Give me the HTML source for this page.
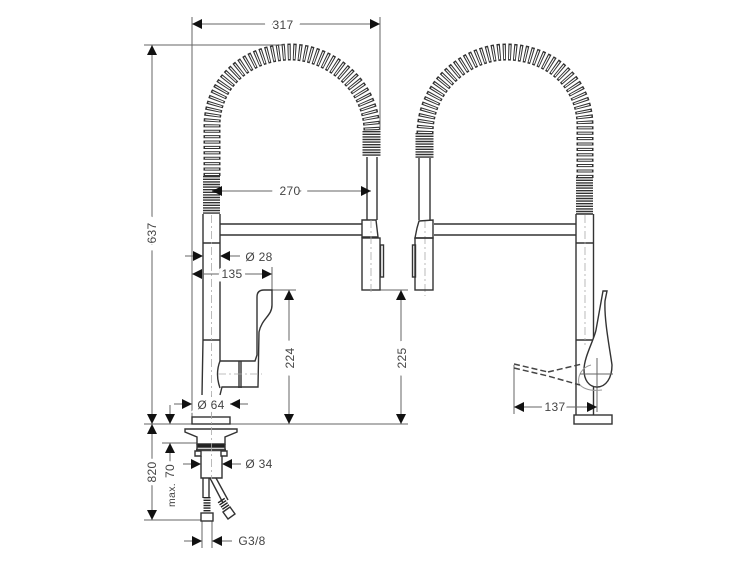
<!DOCTYPE html>
<html><head><meta charset="utf-8"><style>
html,body{margin:0;padding:0;background:#fff}
svg{display:block;filter:blur(.35px)}
text{font-family:"Liberation Sans",sans-serif;font-size:12px;fill:#444;text-anchor:middle;stroke:#fff;stroke-width:7px;paint-order:stroke;letter-spacing:.3px}
.g{stroke-width:15px}
.d{fill:none;stroke:#666;stroke-width:1}
.o{fill:none;stroke:#333;stroke-width:1.4}
.w{fill:#fff;stroke:#333;stroke-width:1.4}
.c{fill:none;stroke:#aaa;stroke-width:.8;stroke-dasharray:8 3 2 3}
.a{fill:none;stroke:#666;stroke-width:1;marker-end:url(#m)}
.h{fill:none;stroke:#444;stroke-width:1.5;stroke-dasharray:6 3}
</style></head><body>
<svg width="750" height="563" viewBox="0 0 750 563" xmlns="http://www.w3.org/2000/svg">
<defs>
<marker id="m" markerUnits="userSpaceOnUse" markerWidth="12" markerHeight="11" refX="10" refY="5" orient="auto"><path d="M0 0L10 5L0 10z" fill="#111"/></marker>
</defs>

<!-- coils -->
<g fill="none">
<path d="M212 176L212 126C212 82 248 52 291 52C328 52 372 84 372 132" stroke="#333" stroke-width="17" stroke-dasharray="3.1 2.3"/>
<path d="M212 176L212 126C212 82 248 52 291 52C328 52 372 84 372 132" stroke="#fff" stroke-width="14" stroke-dasharray="1.1 4.3" stroke-dashoffset="-1"/>
<path d="M425 134C425 84 469 52 506 52C549 52 585 82 585 126L585 178" stroke="#333" stroke-width="17" stroke-dasharray="3.1 2.3"/>
<path d="M425 134C425 84 469 52 506 52C549 52 585 82 585 126L585 178" stroke="#fff" stroke-width="14" stroke-dasharray="1.1 4.3" stroke-dashoffset="-1"/>
<!-- threaded collars -->
<path d="M211.500 176V214" stroke="#333" stroke-width="17" stroke-dasharray="1.4 1.2"/>
<path d="M371.500 131V157" stroke="#333" stroke-width="18" stroke-dasharray="1.4 1.2"/>
<path d="M424.500 133V158" stroke="#333" stroke-width="18" stroke-dasharray="1.4 1.2"/>
<path d="M584.500 177V214" stroke="#333" stroke-width="17" stroke-dasharray="1.4 1.2"/>
</g>

<!-- dimension extension lines -->
<path class="d" d="M192 17V417M380 17V130M144 45H285M144 424H408M144 520H204M162 443H197M272 267V290M272 290H296M362 290H408M202 521V548M212 521V548M514 365V414M597 358V412"/>

<!-- LEFT body -->
<path class="o" d="M203 214V243M220 214V243M203 243H220M203 243V340M220 243V361M203 340H220M203 340L202 395M220 361H255L257 355V297Q257 290 264 290H272V305C272 316 262 318 259 332L258 387H222L220 395"/>
<path class="o" d="M220 224H362M220 235H362M367 157V220M377 157V220"/>
<path class="o" d="M239 361V388M241 361V388M220 361Q215 374 220 388"/>
<path class="c" d="M211.500 215V420M218 374H262"/>
<path class="o" d="M362 220H376L378 237H362z"/>
<rect class="o" x="362" y="238" width="18" height="52"/>
<rect class="o" x="380.500" y="245" width="3" height="32"/>
<path class="c" d="M371 220V295"/>

<!-- Base section -->
<rect class="w" x="192" y="417" width="38" height="7"/>
<path class="w" d="M185 429H237V432L225 437V444H197V437L185 432z"/>
<path d="M197 446H225" stroke="#222" stroke-width="3.500"/>
<path d="M196 450H226" stroke="#444" stroke-width="2.500"/>
<path class="o" d="M197 444V455M225 444V455"/>
<path class="w" d="M195 451H201V456H195zM221 451H227V456H221z"/>
<path class="o" d="M201 456V478H222V456"/>
<path class="o" d="M203 478V498M209 478V498M210 478L223 503M216 478L228 500"/>
<path d="M207 497V514" stroke="#222" stroke-width="7" stroke-dasharray="1.4 1.2"/>
<path d="M221 500L229 512" stroke="#222" stroke-width="8" stroke-dasharray="1.4 1.2"/>
<rect class="w" x="201" y="513" width="12" height="8"/>
<path class="w" d="M223 512L230 507L235 514L228 519z"/>
<path class="c" d="M211.500 395V480"/>

<!-- RIGHT faucet -->
<path class="o" d="M576 214V420M593.500 214V420M576 214H593M576 243H594M576 340H594M434 224H576M434 235H576M419 158V220M430 158V220"/>
<path class="c" d="M585 215V345M425 220V296"/>
<path class="o" d="M419 221L433 220V238H415L417 228z"/>
<rect class="o" x="415" y="238" width="18" height="52"/>
<rect class="o" x="412.500" y="245" width="3" height="32"/>
<rect class="w" x="574" y="415" width="38" height="9"/>
<path class="w" d="M603 291L607 291L605 301C604 320 610 350 612 365C612 378 606 387 597 387C589 387 584 380 584 370C584 357 594 340 596 330z"/>
<path d="M591 365A16 16 0 0 0 579 384Q586 392 602 390" fill="none" stroke="#999" stroke-width="1"/>
<path class="d" d="M597 358V387M580 374H613"/>
<path class="h" d="M514 364L548 372M548 372L582 364M514 368L548 376L580 385"/>

<!-- dims -->
<path class="a" d="M283 24H192"/><path class="a" d="M283 24H380"/>
<path class="a" d="M152 232V45"/><path class="a" d="M152 232V424"/>
<path class="a" d="M152 470V424"/><path class="a" d="M152 470V520"/>
<path class="a" d="M289 191H212"/><path class="a" d="M289 191H371"/>
<path class="a" d="M185 256H203"/><path class="a" d="M240 256H220"/>
<path class="a" d="M232 274H192"/><path class="a" d="M232 274H272"/>
<path class="a" d="M289 360V290"/><path class="a" d="M289 360V424"/>
<path class="a" d="M401 360V290"/><path class="a" d="M401 360V424"/>
<path class="a" d="M174 404H192"/><path class="a" d="M248 404H230"/>
<path class="a" d="M170 405V424"/><path class="a" d="M170 470V443"/>
<path class="a" d="M183 464H201"/><path class="a" d="M241 464H222"/>
<path class="a" d="M184 541H202"/><path class="a" d="M232 541H212"/>
<path class="a" d="M555 407H514"/><path class="a" d="M555 407H597"/>

<text class="g" x="283" y="29">317</text>
<text class="g" x="290" y="195">270</text>
<text x="259" y="261">Ø 28</text>
<text x="232" y="278">135</text>
<text x="211" y="409">Ø 64</text>
<text x="259" y="468">Ø 34</text>
<text x="252" y="545">G3/8</text>
<text x="555" y="411">137</text>
<text class="g" transform="translate(156 233) rotate(-90)">637</text>
<text transform="translate(156 472) rotate(-90)">820</text>
<text class="g" transform="translate(294 358) rotate(-90)">224</text>
<text class="g" transform="translate(406 358) rotate(-90)">225</text>
<text transform="translate(174 471) rotate(-90)">70</text>
<text transform="translate(175 495) rotate(-90)" style="font-size:10.500px">max.</text>
</svg>
</body></html>
